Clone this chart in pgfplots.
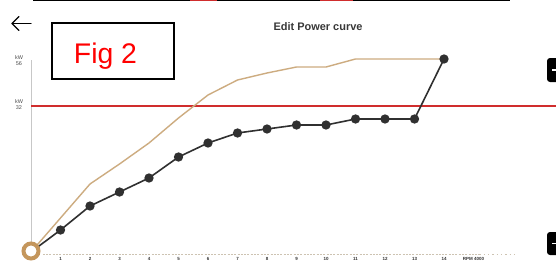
\documentclass[border=0pt]{standalone}
\usepackage{pgfplots}
\pgfplotsset{compat=1.18}
\usepackage{fontspec}
\setmainfont{Liberation Sans}
\definecolor{goldline}{RGB}{205,172,128}
\definecolor{goldring}{RGB}{196,150,92}
\definecolor{darkline}{RGB}{48,48,48}
\definecolor{redline}{RGB}{208,45,45}
\definecolor{basegray}{RGB}{205,195,178}
\begin{document}
\begin{tikzpicture}[x=1bp,y=1bp]
\useasboundingbox (0,0) rectangle (556,262);
\clip (0,0) rectangle (556,262);
\fill[white] (0,0) rectangle (556,262);
% top bar
\draw[black, line width=1.5bp] (33,261.4) -- (510,261.4);
\draw[redline, line width=1.5bp] (190,261.4) -- (217,261.4);
\draw[redline, line width=1.5bp] (320,261.4) -- (353,261.4);
% back arrow
\draw[black, line width=1.4bp, line cap=round, line join=round] (12,238.5) -- (31,238.5);
\draw[black, line width=1.4bp, line cap=round, line join=round] (19,245.5) -- (12,238.5) -- (19,231.5);
% Fig 2 box
\draw[black, line width=1.2bp] (52,239) rectangle (174,183);
\node[anchor=base, text=red, font=\fontsize{28.5}{30}\selectfont, inner sep=0] at (105.5,199) {Fig 2};
% title
\node[anchor=base, text=black!78, font=\bfseries\fontsize{11}{12}\selectfont, inner sep=0] at (318,232) {Edit Power curve};
% right buttons
\fill[black, rounded corners=3bp] (547,204) rectangle (562,180);
\draw[white, line width=1.6bp] (552,192) -- (558,192);
\fill[black, rounded corners=3bp] (547,30) rectangle (562,7);
\draw[white, line width=1.6bp] (552,18.5) -- (558,18.5);
\begin{axis}[
  at={(31bp,10bp)}, anchor=origin,
  scale only axis, width=442.5bp, height=193bp,
  xmin=0, xmax=15, ymin=0, ymax=193,
  clip=false,
  axis lines*=left,
  axis line style={draw=none},
  major tick length=0pt,
  xtick={0,1,2,3,4,5,6,7,8,9,10,11,12,13,14,15},
  xticklabels={0,1,2,3,4,5,6,7,8,9,10,11,12,13,14,RPM 4000},
  xticklabel style={anchor=center, yshift=-7bp, font=\bfseries\fontsize{4.5}{5}\selectfont, text=black!80},
  ytick={147,191},
  yticklabels={{kW\\32},{kW\\56}},
  yticklabel style={anchor=center, align=center, xshift=-12bp, font=\fontsize{5.5}{6}\selectfont, text=black!70},
  /pgf/number format/assume math mode=true,
]
% light y axis line
\addplot[black!22, line width=0.8bp] coordinates {(0,0) (0,192)};
% dashed baseline
\addplot[basegray, line width=0.9bp, dash pattern=on 2bp off 1.3bp] coordinates {(0.4,-2) (15.2,-2)};
\addplot[basegray, line width=0.9bp, dash pattern=on 1.3bp off 3bp] coordinates {(15.2,-2) (16.5,-2)};
% red reference line (32 kW)
\addplot[redline, line width=1.1bp] coordinates {(0,146) (17.9,146)};
% gold (reference) curve
\addplot[goldline, line width=1.4bp] coordinates {
(0,0) (1,34) (2,68) (3,88) (4,109) (5,134) (6,157) (7,172) (8,179) (9,185) (10,185) (11,193) (12,193) (13,193) (14,193)};
% black (edited) curve
\addplot[darkline, line width=1.6bp, mark=*, mark size=3.8bp, mark options={fill=darkline, draw=darkline}] coordinates {
(1,22) (2,46) (3,60) (4,74) (5,95) (6,109) (7,119) (8,123) (9,127) (10,127) (11,133) (12,133) (13,133) (14,193)};
\addplot[darkline, line width=1.6bp] coordinates {(0,0) (1,22)};
% origin ring
\addplot[only marks, mark=*, mark size=7.5bp, mark options={fill=white, draw=goldring, line width=4bp}] coordinates {(0,1)};
\end{axis}
\end{tikzpicture}
\end{document}
